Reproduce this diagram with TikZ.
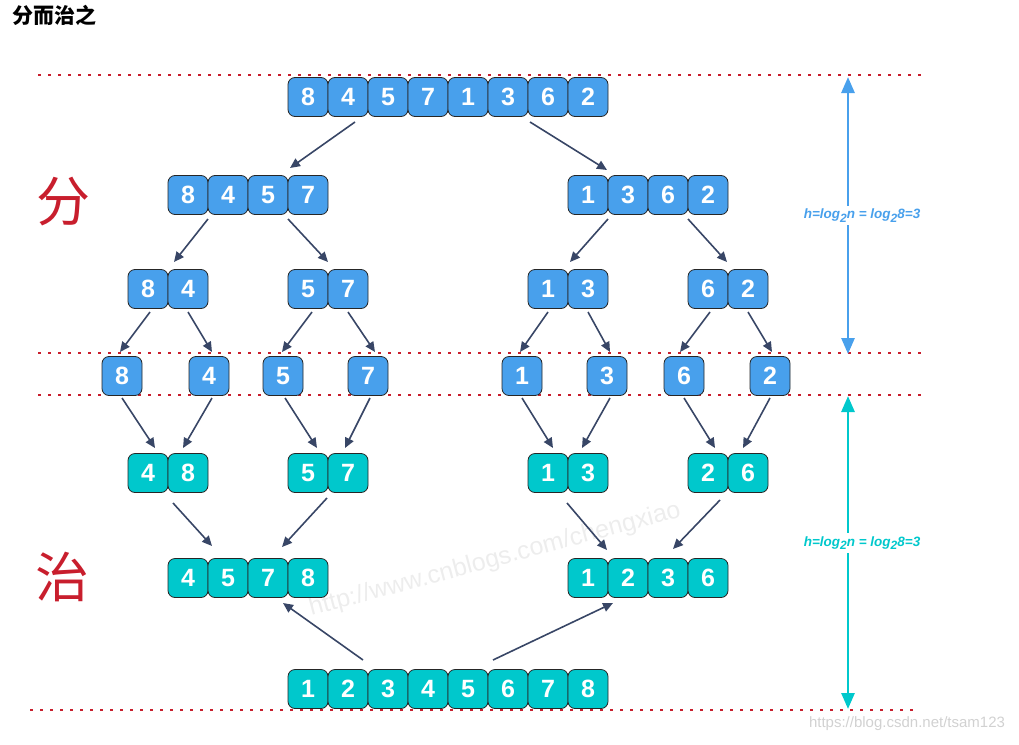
\documentclass[tikz,border=0pt]{standalone}
\usepackage{fontspec}
\setmainfont{Liberation Sans}
\newfontfamily\cjkfont{Noto Sans CJK SC}
\usetikzlibrary{arrows.meta, positioning, calc}

\definecolor{cellblue}{RGB}{72,160,236}
\definecolor{cellteal}{RGB}{0,200,204}
\definecolor{arrowgray}{RGB}{56,70,102}
\definecolor{levelred}{RGB}{200,30,45}

\newcommand{\lowtwo}{\raisebox{-3.5pt}{\fontsize{12}{12}\selectfont 2}}

\begin{document}
\begin{tikzpicture}[
        x=1pt, y=-1pt,
        cell/.style={
            draw=black!85,
            line width=0.8pt,
            rounded corners=7pt,
            minimum width=40pt,
            minimum height=39pt,
            inner sep=0pt,
            text=white,
            font=\fontsize{25}{25}\selectfont\bfseries
        },
        bluecell/.style={cell, fill=cellblue},
        tealcell/.style={cell, fill=cellteal},
        arrow/.style={
            -{Triangle[length=10pt, width=9pt]},
            line width=1.6pt,
            arrowgray
        },
        levelline/.style={
            levelred,
            line width=2.2pt,
            dash pattern=on 3pt off 7pt
        },
        height/.style={
            {Triangle[length=16pt, width=13pt]}-{Triangle[length=16pt, width=13pt]},
            line width=2.8pt
        },
        heightlabel/.style={
            fill=white,
            inner sep=3pt,
            font=\fontsize{13.5}{13.5}\selectfont\bfseries\itshape
        },
        sidechar/.style={
            text=levelred,
            font=\cjkfont\fontsize{54}{54}\selectfont
        }
    ]
    \useasboundingbox (0,0) rectangle (1019,744);

    % title and side characters
    \node[anchor=north west, inner sep=0pt, font=\cjkfont\bfseries\fontsize{21}{21}\selectfont] (title) at (12,5) {分而治之};
    \node[sidechar] (fen) at (63,202) {分};
    \node[sidechar] (zhi) at (62,577) {治};

    % watermarks
    \node[rotate=15, text=black!7, font=\fontsize{25}{25}\selectfont] (mark) at (495,560) {http://www.cnblogs.com/chengxiao};
    \node[text=black!18, font=\fontsize{15}{15}\selectfont] (csdn) at (907,724) {https://blog.csdn.net/tsam123};

    % level lines
    \draw[levelline] (38,75) -- (925,75);
    \draw[levelline] (38,353) -- (925,353);
    \draw[levelline] (38,395) -- (925,395);
    \draw[levelline] (30,710) -- (915,710);

    % divide
    \foreach \v [count=\i] in {8,4,5,7,1,3,6,2}
        \node[bluecell] (a\i) at ({268+40*\i},97) {\v};
    \foreach \v [count=\i] in {8,4,5,7}
        \node[bluecell] (bl\i) at ({148+40*\i},195) {\v};
    \foreach \v [count=\i] in {1,3,6,2}
        \node[bluecell] (br\i) at ({548+40*\i},195) {\v};
    \foreach \v [count=\i] in {8,4}
        \node[bluecell] (c\i) at ({108+40*\i},289) {\v};
    \foreach \v [count=\i] in {5,7}
        \node[bluecell] (d\i) at ({268+40*\i},289) {\v};
    \foreach \v [count=\i] in {1,3}
        \node[bluecell] (e\i) at ({508+40*\i},289) {\v};
    \foreach \v [count=\i] in {6,2}
        \node[bluecell] (f\i) at ({668+40*\i},289) {\v};
    \foreach \v/\x [count=\i] in {8/122,4/209,5/283,7/368,1/522,3/607,6/684,2/770}
        \node[bluecell] (s\i) at (\x,376) {\v};

    % conquer
    \foreach \v [count=\i] in {4,8}
        \node[tealcell] (g\i) at ({108+40*\i},473) {\v};
    \foreach \v [count=\i] in {5,7}
        \node[tealcell] (h\i) at ({268+40*\i},473) {\v};
    \foreach \v [count=\i] in {1,3}
        \node[tealcell] (i\i) at ({508+40*\i},473) {\v};
    \foreach \v [count=\i] in {2,6}
        \node[tealcell] (j\i) at ({668+40*\i},473) {\v};
    \foreach \v [count=\i] in {4,5,7,8}
        \node[tealcell] (k\i) at ({148+40*\i},578) {\v};
    \foreach \v [count=\i] in {1,2,3,6}
        \node[tealcell] (m\i) at ({548+40*\i},578) {\v};
    \foreach \v [count=\i] in {1,2,3,4,5,6,7,8}
        \node[tealcell] (n\i) at ({268+40*\i},689) {\v};

    % split arrows
    \draw[arrow] ($(a2)+(7,25)$) -- ($(bl4)+(-18,-27)$);
    \draw[arrow] ($(a7)+(-18,25)$) -- ($(br1)+(19,-25)$);
    \draw[arrow] ($(bl2)+(-20,24)$) -- ($(c2)+(-14,-27)$);
    \draw[arrow] ($(bl3)+(20,24)$) -- ($(d1)+(20,-27)$);
    \draw[arrow] ($(br2)+(-20,24)$) -- ($(e2)+(-18,-27)$);
    \draw[arrow] ($(br3)+(20,24)$) -- ($(f1)+(19,-27)$);
    \draw[arrow] ($(c1)+(2,23)$) -- ($(s1)+(-2,-24)$);
    \draw[arrow] ($(c2)+(0,23)$) -- ($(s2)+(3,-24)$);
    \draw[arrow] ($(d1)+(4,23)$) -- ($(s3)+(-1,-24)$);
    \draw[arrow] ($(d2)+(0,23)$) -- ($(s4)+(7,-24)$);
    \draw[arrow] ($(e1)+(0,23)$) -- ($(s5)+(-2,-24)$);
    \draw[arrow] ($(e2)+(0,23)$) -- ($(s6)+(3,-24)$);
    \draw[arrow] ($(f1)+(2,23)$) -- ($(s7)+(-4,-24)$);
    \draw[arrow] ($(f2)+(0,23)$) -- ($(s8)+(2,-24)$);

    % merge arrows
    \draw[arrow] ($(s1)+(0,22)$) -- ($(g1)+(7,-25)$);
    \draw[arrow] ($(s2)+(3,22)$) -- ($(g2)+(-5,-25)$);
    \draw[arrow] ($(s3)+(2,22)$) -- ($(h1)+(9,-25)$);
    \draw[arrow] ($(s4)+(2,22)$) -- ($(h2)+(-3,-25)$);
    \draw[arrow] ($(s5)+(0,22)$) -- ($(i1)+(5,-25)$);
    \draw[arrow] ($(s6)+(3,22)$) -- ($(i2)+(-6,-25)$);
    \draw[arrow] ($(s7)+(0,22)$) -- ($(j1)+(7,-25)$);
    \draw[arrow] ($(s8)+(0,22)$) -- ($(j2)+(-5,-25)$);
    \draw[arrow] ($(g2)+(-15,30)$) -- ($(k1)+(24,-32)$);
    \draw[arrow] ($(h2)+(-21,25)$) -- ($(k3)+(14,-31)$);
    \draw[arrow] ($(i1)+(19,30)$) -- ($(m1)+(19,-28)$);
    \draw[arrow] ($(j2)+(-28,27)$) -- ($(m3)+(5,-29)$);
    \draw[arrow] ($(n2)+(15,-29)$) -- ($(k3)+(15,25)$);
    \draw[arrow] ($(n6)+(-15,-29)$) -- ($(m1)+(25,25)$);

    % heights
    \coordinate (htop) at (848,77);
    \coordinate (hmid) at (848,354);
    \coordinate (hlow) at (848,396);
    \coordinate (hend) at (848,709);
    \draw[height, cellblue] (htop) -- node[heightlabel, xshift=14pt] {h=log\lowtwo n = log\lowtwo 8=3} (hmid);
    \draw[height, cellteal] (hlow) -- node[heightlabel, xshift=14pt, pos=0.47] {h=log\lowtwo n = log\lowtwo 8=3} (hend);

    \end{tikzpicture}
\end{document}
